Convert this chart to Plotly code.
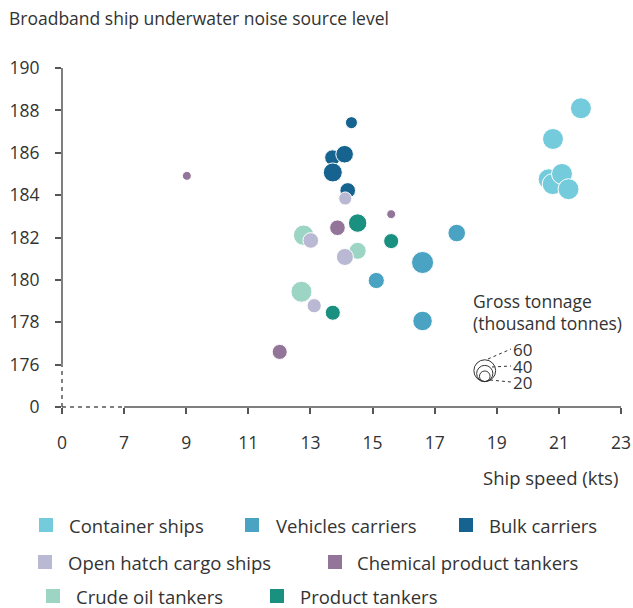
import plotly.graph_objects as go

# ---- data -------------------------------------------------------------
categories = [
    "Container ships", "Vehicles carriers", "Bulk carriers",
    "Open hatch cargo ships", "Chemical product tankers",
    "Crude oil tankers", "Product tankers",
]
colors = ["#74CBDB", "#4BA3C3", "#16638F", "#B9B9D3", "#94759A", "#9DD5C5", "#1A9080"]

# ship speed (kts), source level, gross tonnage (thousand tonnes)
container_speed = [21.71, 20.81, 20.67, 20.80, 21.10, 21.31]
container_level = [188.10, 186.65, 184.75, 184.52, 185.00, 184.28]
container_gt = [57, 57, 57, 57, 57, 57]

vehicles_speed = [17.71, 16.61, 16.61, 15.12]
vehicles_level = [182.21, 180.82, 178.06, 179.97]
vehicles_gt = [45, 61, 52, 40]

bulk_speed = [14.32, 13.71, 14.10, 13.72, 14.20]
bulk_level = [187.42, 185.77, 185.93, 185.07, 184.22]
bulk_gt = [25, 38, 45, 50, 38]

openhatch_speed = [14.12, 13.01, 14.11, 13.12]
openhatch_level = [183.84, 181.86, 181.08, 178.78]
openhatch_gt = [29, 38, 43, 33]

chemical_speed = [9.02, 15.60, 13.87, 12.01]
chemical_level = [184.91, 183.10, 182.46, 176.60]
chemical_gt = [14, 14, 38, 36]

crude_speed = [12.78, 14.52, 12.71]
crude_level = [182.11, 181.37, 179.44]
crude_gt = [55, 43, 57]

product_speed = [14.52, 15.60, 13.72]
product_level = [182.68, 181.83, 178.45]
product_gt = [48, 36, 36]

# broken axes: the first tick of each axis stands for zero
x_tick_vals = [5, 7, 9, 11, 13, 15, 17, 19, 21, 23]
x_tick_text = ["0", "7", "9", "11", "13", "15", "17", "19", "21", "23"]
y_tick_vals = [174, 176, 178, 180, 182, 184, 186, 188, 190]
y_tick_text = ["0", "176", "178", "180", "182", "184", "186", "188", "190"]

size_key = [60, 40, 20]

# ---- layout helpers ---------------------------------------------------
W, H = 633, 608
L, R, T, B = 62, 12, 68, 201
FONT = "Open Sans"
TXT = "#333333"
AXC = "#555555"
FS = 17.5
FS_KEY = 18.5


def fx(px):
    return (px - L) / (W - L - R)


def fy(py):
    return (H - B - py) / (H - T - B)


def bubble(gt):
    return 5 + 0.28 * gt


series = [
    (container_speed, container_level, container_gt, 0),
    (vehicles_speed, vehicles_level, vehicles_gt, 1),
    (bulk_speed, bulk_level, bulk_gt, 2),
    (crude_speed, crude_level, crude_gt, 5),
    (product_speed, product_level, product_gt, 6),
    (chemical_speed, chemical_level, chemical_gt, 4),
    (openhatch_speed, openhatch_level, openhatch_gt, 3),
]

fig = go.Figure()
for sx, sy, gt, k in series:
    fig.add_trace(go.Scatter(
        x=sx, y=sy, mode="markers", name=categories[k],
        marker=dict(size=[bubble(g) for g in gt], color=colors[k],
                    opacity=1, line=dict(color="white", width=1)),
        showlegend=False, cliponaxis=False,
    ))

shapes = []
# axis lines, dashed across the break
x_break = (x_tick_vals[1] - x_tick_vals[0]) / (x_tick_vals[-1] - x_tick_vals[0])
y_break = (y_tick_vals[1] - y_tick_vals[0]) / (y_tick_vals[-1] - y_tick_vals[0])
shapes.append(dict(type="line", xref="paper", yref="paper", x0=0, x1=0, y0=y_break, y1=1,
                   line=dict(color=AXC, width=1.5)))
shapes.append(dict(type="line", xref="paper", yref="paper", x0=0, x1=0, y0=0, y1=y_break,
                   line=dict(color=AXC, width=1.5, dash="4px,4px")))
shapes.append(dict(type="line", xref="paper", yref="paper", x0=x_break, x1=1, y0=0, y1=0,
                   line=dict(color=AXC, width=1.5)))
shapes.append(dict(type="line", xref="paper", yref="paper", x0=0, x1=x_break, y0=0, y1=0,
                   line=dict(color=AXC, width=1.5, dash="4px,4px")))

# gross tonnage key: bottom-aligned open circles
key_x = 5 + (484 - L) / 31.0
key_y = 175.2
for gt in size_key:
    d = bubble(gt)
    shapes.append(dict(type="circle", xref="x", yref="y", xsizemode="pixel", ysizemode="pixel",
                       xanchor=key_x, yanchor=key_y, x0=-d / 2, x1=d / 2, y0=0, y1=d,
                       line=dict(color="#333333", width=1)))

annotations = []
leaders = [((488, 359), (511, 349)), ((492, 367), (511, 366)), ((490, 380), (511, 382))]
for (a, b), gt in zip(leaders, size_key):
    shapes.append(dict(type="line", xref="paper", yref="paper",
                       x0=fx(a[0]), y0=fy(a[1]), x1=fx(b[0]), y1=fy(b[1]),
                       line=dict(color="#333333", width=1, dash="dot")))
    annotations.append(dict(xref="paper", yref="paper", x=fx(b[0] + 1), y=fy(b[1]),
                            xanchor="left", yanchor="middle", showarrow=False, borderpad=0,
                            text=str(gt), font=dict(family=FONT, size=17, color=TXT)))

annotations.append(dict(xref="paper", yref="paper", x=fx(471), y=fy(301), xanchor="left",
                        yanchor="middle", showarrow=False, text="Gross tonnage",
                        font=dict(family=FONT, size=FS, color=TXT)))
annotations.append(dict(xref="paper", yref="paper", x=fx(471), y=fy(323), xanchor="left",
                        yanchor="middle", showarrow=False, text="(thousand tonnes)",
                        font=dict(family=FONT, size=FS, color=TXT)))

# titles
annotations.append(dict(xref="paper", yref="paper", x=fx(7), y=fy(18), xanchor="left",
                        yanchor="middle", showarrow=False,
                        text="Broadband ship underwater noise source level",
                        font=dict(family=FONT, size=FS, color=TXT)))
annotations.append(dict(xref="paper", yref="paper", x=fx(620), y=fy(477), xanchor="right",
                        yanchor="middle", showarrow=False, text="Ship speed (kts)",
                        font=dict(family=FONT, size=FS_KEY, color=TXT)))

# category key
key_items = [
    (0, 46, 68, 525), (1, 252, 275, 525), (2, 466, 488, 525),
    (3, 45, 67, 562), (4, 335, 356, 562),
    (5, 53, 75, 596), (6, 277, 299, 596),
]
sq = 14
for k, cx, tx, cy in key_items:
    shapes.append(dict(type="rect", xref="paper", yref="paper", line=dict(width=0),
                       x0=fx(cx - sq / 2), x1=fx(cx + sq / 2), y0=fy(cy + sq / 2), y1=fy(cy - sq / 2),
                       fillcolor=colors[k]))
    annotations.append(dict(xref="paper", yref="paper", x=fx(tx), y=fy(cy), xanchor="left",
                            yanchor="middle", showarrow=False, text=categories[k], borderpad=0,
                            font=dict(family=FONT, size=FS_KEY, color=TXT)))

fig.update_layout(
    width=W, height=H, margin=dict(l=L, r=R, t=T, b=B, pad=0, autoexpand=False),
    paper_bgcolor="white", plot_bgcolor="white",
    font=dict(family=FONT, size=FS, color=TXT),
    showlegend=False, shapes=shapes, annotations=annotations,
    xaxis=dict(range=[x_tick_vals[0], x_tick_vals[-1]], tickvals=x_tick_vals, ticktext=x_tick_text,
               ticks="outside", ticklen=6, tickwidth=1.5, tickcolor=AXC, showline=False,
               showgrid=False, zeroline=False, ticklabelstandoff=14, automargin=False,
               tickfont=dict(family=FONT, size=FS, color=TXT)),
    yaxis=dict(range=[y_tick_vals[0], y_tick_vals[-1]], tickvals=y_tick_vals, ticktext=y_tick_text,
               ticks="outside", ticklen=6, tickwidth=1.5, tickcolor=AXC, showline=False,
               showgrid=False, zeroline=False, ticklabelstandoff=12, automargin=False,
               tickfont=dict(family=FONT, size=FS, color=TXT)),
)

fig.write_html("out.html")
